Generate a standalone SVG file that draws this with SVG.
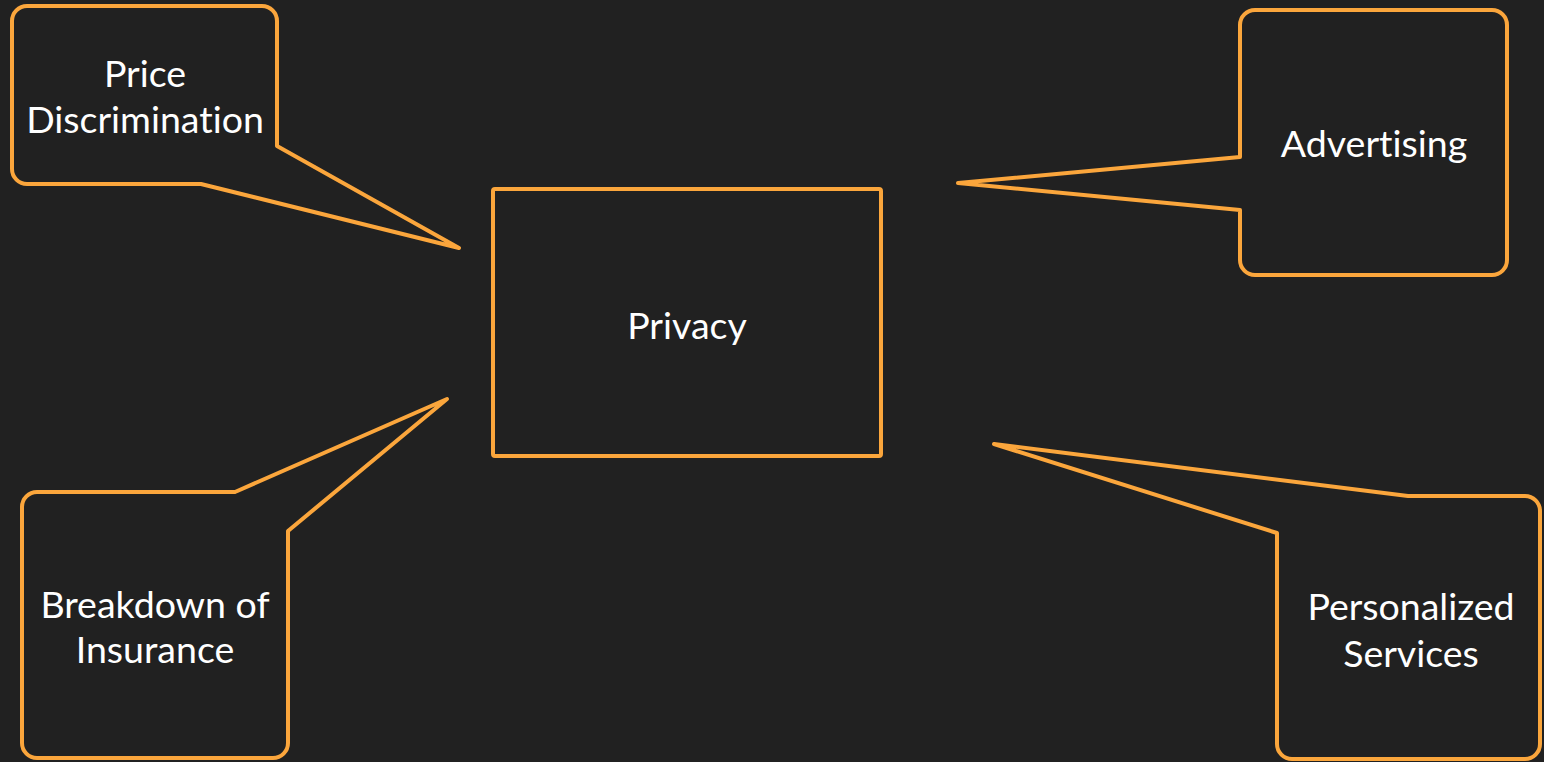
<svg xmlns="http://www.w3.org/2000/svg" width="1544" height="762" viewBox="0 0 1544 762">
<style>
.shape{fill:#212121;stroke:#fba63c;stroke-width:4;stroke-linejoin:round}
.lbl{font-family:Lato,"Liberation Sans",sans-serif;font-size:37.5px;font-weight:400;fill:#ffffff;text-anchor:middle;font-variant-ligatures:none}
</style>
<rect width="1544" height="762" fill="#212121"/>
<g id="privacy">
<rect class="shape" x="493" y="189" width="388" height="267" rx="2"/>
<text class="lbl" x="687" y="339">Privacy</text>
</g>
<g id="price-discrimination">
<path class="shape" d="M27,6 H262 A15,15 0 0 1 277,21 V146 L459,248 L201,184 H27 A15,15 0 0 1 12,169 V21 A15,15 0 0 1 27,6 Z"/>
<text class="lbl" x="145" y="87">Price</text>
<text class="lbl" x="145" y="133">Discrimination</text>
</g>
<g id="advertising">
<path class="shape" d="M1255,10 H1492 A15,15 0 0 1 1507,25 V260 A15,15 0 0 1 1492,275 H1255 A15,15 0 0 1 1240,260 V210 L958,183 L1240,157 V25 A15,15 0 0 1 1255,10 Z"/>
<text class="lbl" x="1374" y="157">Advertising</text>
</g>
<g id="breakdown-of-insurance">
<path class="shape" d="M37,492 H235 L447,399 L288,531 V743 A15,15 0 0 1 273,758 H37 A15,15 0 0 1 22,743 V507 A15,15 0 0 1 37,492 Z"/>
<text class="lbl" x="155" y="618">Breakdown of</text>
<text class="lbl" x="155" y="663">Insurance</text>
</g>
<g id="personalized-services">
<path class="shape" d="M1277,533 L994,444 L1408,496 H1525 A15,15 0 0 1 1540,511 V744 A15,15 0 0 1 1525,759 H1292 A15,15 0 0 1 1277,744 Z"/>
<text class="lbl" x="1411" y="620">Personalized</text>
<text class="lbl" x="1411" y="667">Services</text>
</g>
<g id="connectors"></g>
</svg>
